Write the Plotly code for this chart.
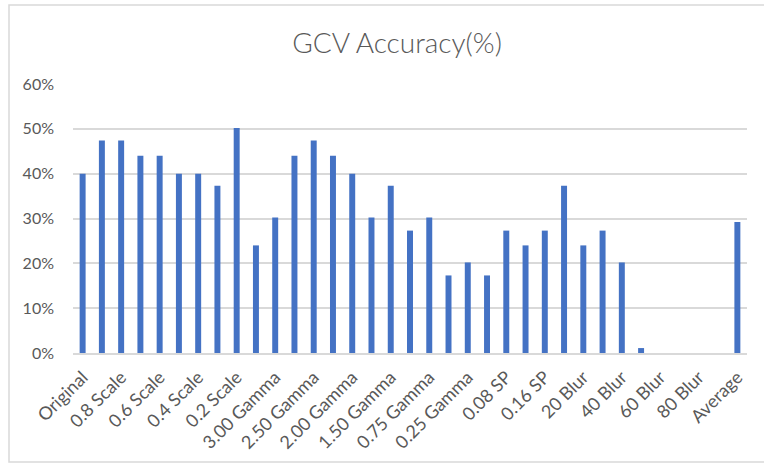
import plotly.graph_objects as go

categories = [
    "Original", "0.9 Scale", "0.8 Scale", "0.7 Scale", "0.6 Scale", "0.5 Scale",
    "0.4 Scale", "0.3 Scale", "0.2 Scale", "3.50 Gamma", "3.00 Gamma", "2.75 Gamma",
    "2.50 Gamma", "2.25 Gamma", "2.00 Gamma", "1.75 Gamma", "1.50 Gamma", "1.00 Gamma",
    "0.75 Gamma", "0.50 Gamma", "0.25 Gamma", "0.04 SP", "0.08 SP", "0.12 SP",
    "0.16 SP", "10 Blur", "20 Blur", "30 Blur", "40 Blur", "50 Blur", "60 Blur",
    "70 Blur", "80 Blur", "90 Blur", "Average",
]
accuracy = [
    40.0, 47.4, 47.4, 44.0, 44.0, 40.0, 40.0, 37.3, 50.2, 24.0, 30.2, 44.0,
    47.4, 44.0, 40.0, 30.2, 37.3, 27.3, 30.2, 17.3, 20.2, 17.3, 27.3, 24.0,
    27.3, 37.3, 24.0, 27.3, 20.2, 1.1, 0.0, 0.0, 0.0, 0.0, 29.2,
]
shown_labels = categories[::2]
y_ticks = [0, 10, 20, 30, 40, 50, 60]
y_tick_text = [f"{v}%" for v in y_ticks]

W, H = 764, 464
L, R, T, B = 73, 17, 84, 111
pw, ph = W - L - R, H - T - B

def px_x(p):
    return (p - L) / pw

def px_y(p):
    return (H - B - p) / ph

fig = go.Figure(go.Bar(
    x=categories, y=accuracy,
    marker=dict(color="#4472C4", line=dict(width=0)),
    hoverinfo="x+y",
))

fig.update_layout(
    width=W, height=H,
    margin=dict(l=L, r=R, t=T, b=B, autoexpand=False),
    paper_bgcolor="white", plot_bgcolor="white",
    bargap=0.69,
    font=dict(family="Lato", color="#595959", size=17),
    title=dict(text="GCV Accuracy(%)", x=397 / W, xanchor="center",
               y=1 - 43 / H, yanchor="middle",
               font=dict(family="Lato", size=28, color="#595959", weight=300)),
    showlegend=False,
    shapes=[dict(type="rect", xref="paper", yref="paper",
                 x0=px_x(9), x1=px_x(775), y0=px_y(462), y1=px_y(5),
                 line=dict(color="#D9D9D9", width=1.5), layer="below")],
)
fig.update_xaxes(
    type="category", tickmode="array", tickvals=shown_labels, ticktext=shown_labels,
    tickangle=-45, showgrid=False, showline=True, linecolor="#D9D9D9", linewidth=1.5,
    ticks="", ticklabelstandoff=5, automargin=False,
    tickfont=dict(size=18, color="#595959"),
)
fig.update_yaxes(
    range=[0, 60], tickmode="array", tickvals=y_ticks, ticktext=y_tick_text,
    showgrid=True, gridcolor="#D9D9D9", gridwidth=1.5, zeroline=False, showline=False,
    ticks="", ticklabelstandoff=18, automargin=False,
    tickfont=dict(size=16, color="#595959"),
)

fig.write_html(
    "out.html",
    config={"displayModeBar": False},
    post_script="document.body.style.margin='0';document.body.style.overflow='hidden';",
)
